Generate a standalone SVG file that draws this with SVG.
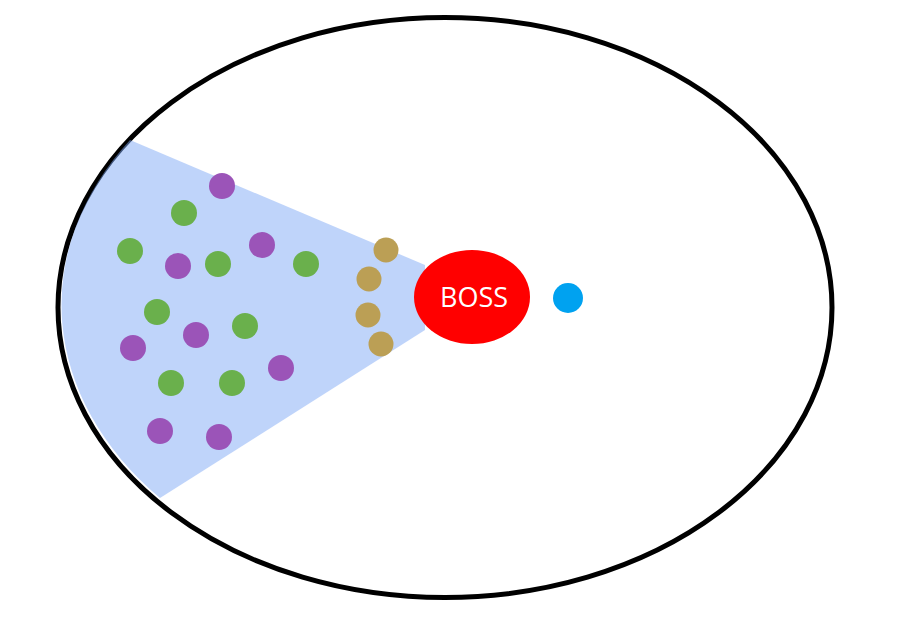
<svg xmlns="http://www.w3.org/2000/svg" width="920" height="625" viewBox="0 0 920 625">
<style>.p{fill:#9b54b8}.g{fill:#6ab04c}.t{fill:#bb9f55}</style>
<rect width="920" height="625" fill="#fff"/>
<ellipse cx="445" cy="307.5" rx="387" ry="290" fill="none" stroke="#000" stroke-width="5"/>
<path d="M130 140 L425 265 L425 330 L160 498 A387 290 0 0 1 130 140 Z" fill="#7faaf5" fill-opacity="0.5"/>
<g id="purple">
<circle class="p" cx="222" cy="186" r="13"/><circle class="p" cx="262" cy="245" r="13"/><circle class="p" cx="178" cy="266" r="13"/><circle class="p" cx="133" cy="348" r="13"/><circle class="p" cx="196" cy="335" r="13"/><circle class="p" cx="281" cy="368" r="13"/><circle class="p" cx="160" cy="431" r="13"/><circle class="p" cx="219" cy="437" r="13"/>
</g>
<g id="green">
<circle class="g" cx="184" cy="213" r="13"/><circle class="g" cx="130" cy="251" r="13"/><circle class="g" cx="218" cy="264" r="13"/><circle class="g" cx="306" cy="264" r="13"/><circle class="g" cx="157" cy="312" r="13"/><circle class="g" cx="245" cy="326" r="13"/><circle class="g" cx="171" cy="383" r="13"/><circle class="g" cx="232" cy="383" r="13"/>
</g>
<g id="tan">
<circle class="t" cx="386" cy="250" r="12.5"/><circle class="t" cx="369" cy="279" r="12.5"/><circle class="t" cx="368" cy="315" r="12.5"/><circle class="t" cx="381" cy="344" r="12.5"/>
</g>
<g id="boss">
<ellipse cx="472" cy="297" rx="58" ry="47" fill="#ff0000"/>
<text x="474" y="307" text-anchor="middle" font-family="'Open Sans','Liberation Sans',sans-serif" font-size="27" fill="#fff">BOSS</text>
</g>
<circle id="blue" cx="568" cy="298" r="15" fill="#00a2f0"/>
</svg>
